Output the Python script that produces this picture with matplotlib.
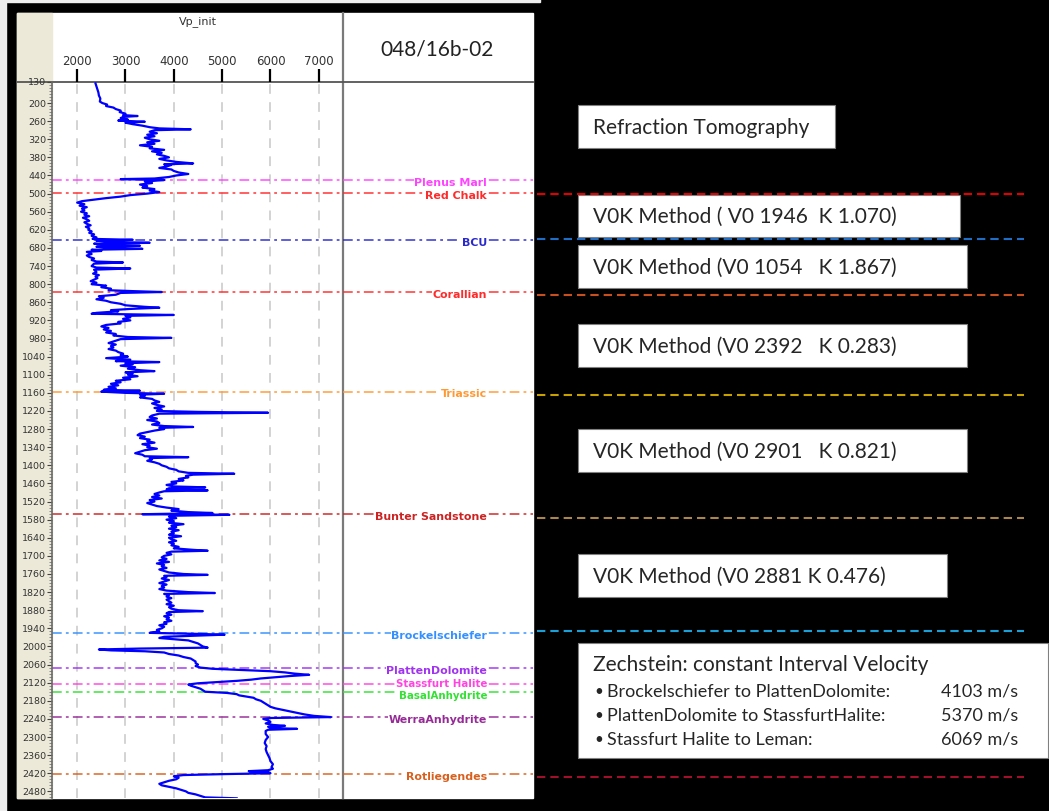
import matplotlib
matplotlib.use("Agg")
import matplotlib.pyplot as plt
import matplotlib.transforms as mtransforms
from matplotlib.patches import Rectangle
from matplotlib.ticker import FixedLocator, MultipleLocator

plt.rcParams['lines.scale_dashes'] = False

W, H = 1049, 812

# ---- data ----
well_name = "048/16b-02"
curve_name = "Vp_init"

# velocity log (depth m, Vp m/s)
log_depth = [135, 145, 155, 165, 175, 185, 195, 200, 205, 210, 215, 220, 225, 230, 235, 240, 243, 246, 250, 255,
             258, 262, 265, 270, 275, 280, 284, 287, 290, 295, 300, 305, 310, 315, 320, 325, 330, 335, 340, 345,
             350, 355, 360, 365, 370, 375, 380, 385, 390, 395, 400, 403, 405, 410, 415, 420, 425, 430, 435, 440,
             445, 450, 452, 455, 460, 465, 470, 475, 480, 485, 490, 495, 500, 505, 510, 515, 520, 525, 530, 535,
             540, 545, 550, 555, 560, 565, 570, 575, 580, 585, 590, 595, 600, 605, 610, 615, 620, 625, 630, 635,
             640, 645, 650, 653, 656, 660, 663, 666, 670, 673, 676, 680, 683, 686, 690, 693, 700, 705, 710, 715,
             720, 725, 728, 732, 740, 745, 748, 752, 760, 765, 770, 775, 780, 785, 790, 795, 800, 805, 810, 815,
             820, 823, 826, 829, 835, 840, 845, 850, 855, 860, 865, 870, 875, 878, 882, 886, 890, 895, 898, 902,
             905, 910, 915, 920, 925, 930, 935, 940, 945, 950, 955, 960, 965, 970, 975, 978, 982, 990, 995, 1000,
             1005, 1010, 1015, 1020, 1025, 1030, 1035, 1040, 1045, 1050, 1055, 1058, 1062, 1065, 1070, 1075, 1080, 1085, 1088, 1092,
             1095, 1100, 1105, 1110, 1115, 1120, 1125, 1130, 1135, 1140, 1145, 1150, 1153, 1156, 1160, 1163, 1166, 1170, 1175, 1180,
             1185, 1190, 1195, 1200, 1205, 1210, 1215, 1220, 1223, 1226, 1229, 1235, 1240, 1245, 1250, 1255, 1260, 1265, 1270, 1273,
             1276, 1280, 1285, 1290, 1295, 1300, 1305, 1310, 1315, 1320, 1325, 1330, 1335, 1340, 1345, 1350, 1355, 1360, 1365, 1370,
             1373, 1376, 1380, 1385, 1390, 1395, 1400, 1405, 1410, 1415, 1420, 1425, 1428, 1431, 1435, 1440, 1445, 1450, 1455, 1460,
             1465, 1470, 1473, 1476, 1480, 1483, 1486, 1490, 1495, 1500, 1505, 1510, 1515, 1520, 1525, 1530, 1535, 1540, 1545, 1550,
             1555, 1558, 1562, 1564, 1567, 1570, 1575, 1580, 1585, 1590, 1595, 1600, 1605, 1610, 1615, 1620, 1625, 1630, 1635, 1640,
             1645, 1650, 1655, 1660, 1665, 1670, 1675, 1680, 1683, 1686, 1690, 1695, 1700, 1705, 1710, 1715, 1720, 1725, 1730, 1735,
             1740, 1745, 1750, 1755, 1760, 1763, 1766, 1770, 1775, 1780, 1785, 1790, 1795, 1800, 1805, 1810, 1815, 1820, 1823, 1826,
             1830, 1835, 1840, 1845, 1850, 1855, 1860, 1865, 1870, 1875, 1880, 1883, 1886, 1890, 1895, 1900, 1905, 1910, 1915, 1920,
             1925, 1930, 1935, 1940, 1945, 1950, 1955, 1958, 1961, 1964, 1968, 1972, 1976, 1980, 1985, 1990, 1995, 2000, 2004, 2007,
             2010, 2013, 2016, 2020, 2025, 2030, 2035, 2040, 2045, 2050, 2055, 2060, 2065, 2070, 2074, 2078, 2082, 2086, 2090, 2094,
             2098, 2102, 2106, 2110, 2114, 2118, 2122, 2126, 2130, 2135, 2140, 2145, 2150, 2154, 2158, 2162, 2166, 2170, 2175, 2180,
             2185, 2190, 2195, 2200, 2205, 2210, 2215, 2220, 2225, 2230, 2234, 2237, 2240, 2245, 2250, 2255, 2260, 2263, 2266, 2270,
             2273, 2276, 2280, 2290, 2300, 2310, 2320, 2330, 2340, 2350, 2360, 2370, 2380, 2390, 2400, 2405, 2410, 2413, 2416, 2420,
             2423, 2426, 2430, 2435, 2440, 2445, 2450, 2455, 2460, 2465, 2470, 2475, 2480, 2485, 2490, 2495, 2500, 2503]
log_vp = [2380, 2400, 2420, 2440, 2450, 2480, 2470, 2520, 2620, 2600, 2750, 2800, 2900, 2880, 3000, 2950, 3250, 2950, 2900, 3050,
          2850, 3400, 3000, 3150, 3350, 3500, 3700, 4350, 3600, 3500, 3650, 3450, 3600, 3400, 3500, 3700, 3450, 3600, 3300, 3550,
          3500, 3800, 3550, 3750, 3650, 3800, 3900, 3700, 3850, 4050, 4400, 3800, 3950, 3850, 3700, 3950, 4000, 4100, 4300, 4050,
          3900, 3600, 2900, 3800, 3400, 3550, 3300, 3450, 3350, 3600, 3500, 3700, 3450, 3100, 2900, 2600, 2350, 2100, 2000, 2150,
          2050, 2200, 2100, 2150, 2080, 2200, 2150, 2250, 2120, 2200, 2250, 2150, 2200, 2280, 2180, 2250, 2230, 2300, 2250, 2350,
          2300, 2400, 2320, 3150, 2400, 2700, 3500, 2350, 2600, 3300, 2400, 2700, 3350, 2300, 2500, 2200, 2300, 2200, 2250, 2350,
          2300, 2400, 2950, 2350, 2300, 2400, 3100, 2350, 2400, 2330, 2450, 2380, 2420, 2350, 2280, 2400, 2300, 2600, 2500, 2700,
          2650, 3150, 3750, 2900, 2800, 2450, 2550, 2400, 2600, 2700, 2900, 3000, 3400, 3700, 3100, 2700, 2850, 2400, 2300, 4000,
          3000, 3100, 2950, 3100, 2850, 2900, 2600, 2500, 2650, 2550, 2700, 2600, 2800, 2750, 3050, 3950, 2900, 2750, 2650, 2800,
          2700, 2750, 2650, 2800, 2850, 2950, 2900, 3050, 2600, 3100, 2800, 3700, 3000, 3150, 2900, 3200, 3050, 3300, 3600, 3000,
          3150, 3050, 3250, 2950, 3100, 2800, 2900, 2700, 2850, 2650, 2800, 2550, 3300, 2500, 3000, 3800, 3300, 3400, 3300, 3550,
          3600, 3700, 3550, 3650, 3800, 3600, 3750, 3650, 4500, 5950, 3700, 3550, 3500, 3650, 3450, 3650, 3700, 3550, 3800, 4400,
          3700, 3800, 3600, 3450, 3300, 3250, 3400, 3300, 3500, 3450, 3600, 3350, 3500, 3450, 3650, 3400, 3300, 3200, 3350, 3400,
          4300, 3500, 3550, 3450, 3600, 3700, 3750, 3850, 3900, 4050, 4100, 4300, 5250, 4400, 4250, 4300, 4100, 4200, 3950, 4050,
          3850, 4000, 4650, 3900, 3850, 4700, 3800, 3700, 3600, 3700, 3550, 3750, 3500, 3600, 3450, 3550, 3650, 3850, 4100, 3950,
          4300, 4800, 3350, 5150, 4000, 3900, 4050, 3850, 4000, 3900, 4200, 3950, 4050, 3900, 4100, 3950, 4000, 3900, 4150, 3900,
          3950, 4050, 3900, 4000, 3950, 4100, 4000, 4400, 4700, 3950, 3850, 3950, 3800, 3750, 3850, 3700, 3900, 3650, 3800, 3750,
          3850, 3700, 3800, 3900, 4200, 4700, 3800, 3850, 3750, 3900, 3800, 3700, 3850, 3750, 3800, 3700, 3850, 4300, 4850, 3800,
          3900, 3850, 3950, 3850, 3900, 3950, 3850, 4000, 3900, 3950, 4100, 4600, 3900, 3850, 3950, 3800, 3900, 3850, 3950, 3800,
          3850, 3700, 3800, 3750, 3650, 3700, 3500, 4400, 5050, 4500, 3800, 3700, 4000, 4300, 4400, 4500, 4550, 4600, 4700, 3300,
          2450, 2700, 3400, 3800, 3900, 4100, 4200, 4350, 4400, 4450, 4450, 4500, 4450, 4550, 4800, 5400, 6000, 6300, 6500, 6800,
          6400, 6100, 5800, 5600, 5300, 4900, 4500, 4300, 4350, 4450, 4550, 4600, 4650, 5100, 5300, 5350, 5500, 5650, 5700, 5800,
          5850, 5900, 5950, 6000, 6100, 6250, 6400, 6550, 6700, 6900, 7250, 6000, 5850, 5950, 6000, 5900, 6050, 6300, 5950, 6000,
          6550, 5950, 5900, 5900, 5950, 5900, 5880, 5920, 5900, 5920, 5950, 5980, 6000, 6050, 6020, 6050, 5950, 5550, 5950, 6000,
          5000, 4200, 4000, 4100, 4050, 3900, 3800, 3700, 3750, 3900, 4050, 4150, 4250, 4300, 4450, 4550, 4650, 5300]

vp_ticks = [2000, 3000, 4000, 5000, 6000, 7000]
depth_ticks = [130, 200, 260, 320, 380, 440, 500, 560, 620, 680, 740, 800, 860, 920, 980, 1040, 1100, 1160,
               1220, 1280, 1340, 1400, 1460, 1520, 1580, 1640, 1700, 1760, 1820, 1880, 1940, 2000, 2060, 2120,
               2180, 2240, 2300, 2360, 2420, 2480]

# formation tops
top_names = ["Plenus Marl", "Red Chalk", "BCU", "Corallian", "Triassic", "Bunter Sandstone", "Brockelschiefer",
             "PlattenDolomite", "Stassfurt Halite", "BasalAnhydrite", "WerraAnhydrite", "Rotliegendes"]
top_depths = [454, 497, 654, 825, 1156, 1562, 1957, 2072, 2126, 2151, 2235, 2422]
top_colors = ["#FF44FF", "#FF2A2A", "#2A2ACC", "#FF2A2A", "#FF9933", "#CC2222", "#3390FF",
              "#A033F0", "#FF44E0", "#33E033", "#962A96", "#D8601E"]

# interval boundaries drawn on the right
zone_depths = [500, 650, 837, 1167, 1576, 1950, 2432]
zone_colors = ["#E00000", "#1E6EC8", "#C8501E", "#C8A000", "#A8864E", "#18A0D8", "#A0102A"]

box_titles = ["Refraction Tomography",
              "V0K Method ( V0 1946  K 1.070)",
              "V0K Method (V0 1054   K 1.867)",
              "V0K Method (V0 2392   K 0.283)",
              "V0K Method (V0 2901   K 0.821)",
              "V0K Method (V0 2881 K 0.476)"]
zech_title = "Zechstein: constant Interval Velocity"
zech_intervals = ["Brockelschiefer to PlattenDolomite:",
                  "PlattenDolomite to StassfurtHalite:",
                  "Stassfurt Halite to Leman:"]
zech_velocity = [4103, 5370, 6069]

# ---- figure ----
fig = plt.figure(figsize=(W / 100, H / 100), dpi=100, facecolor="black")


def px_axes(x0, y0, x1, y1, z=1):
    ax = fig.add_axes([x0 / W, 1 - y1 / H, (x1 - x0) / W, (y1 - y0) / H])
    ax.set_zorder(z)
    ax.set_facecolor("none")
    return ax


bg = px_axes(0, 0, W, H, 0)
bg.set_xlim(0, W)
bg.set_ylim(H, 0)
bg.axis("off")
bg.add_patch(Rectangle((0, 0), 6, H, color="#EEEEEE"))
bg.add_patch(Rectangle((0, 0), 540, 3, color="#EEEEEE"))
bg.add_patch(Rectangle((17, 14), 516, 785, color="white"))
bg.add_patch(Rectangle((17, 14), 35, 785, color="#ECE9D8"))
bg.plot([343, 343], [14, 799], color="#7A7A7A", lw=1.6)
bg.plot([17, 533], [82.6, 82.6], color="#555555", lw=1.3)
bg.text(198, 22, curve_name, ha="center", va="center", fontsize=8, color="#333333")
bg.text(437, 50, well_name, ha="center", va="center", fontsize=15, color="#222222", family="Lato")

Y0, Y1 = 82.6, 799.3
D_TOP, D_BOT = 129, 2503

# depth track
ax_d = px_axes(17, Y0, 52, Y1)
ax_d.set_ylim(D_BOT, D_TOP)
ax_d.set_xlim(0, 1)
ax_d.set_xticks([])
for s in ax_d.spines.values():
    s.set_visible(False)
ax_d.yaxis.tick_right()
ax_d.yaxis.set_major_locator(FixedLocator(depth_ticks))
ax_d.yaxis.set_minor_locator(MultipleLocator(10))
ax_d.tick_params(axis="y", which="major", direction="in", length=3.5, width=0.8, color="#444444",
                 labelright=False)
ax_d.tick_params(axis="y", which="minor", direction="in", length=2, width=0.6, color="#777777")
depth_tr = mtransforms.blended_transform_factory(ax_d.transAxes, ax_d.transData)
for d in depth_ticks:
    ax_d.text(0.83, d, str(d), ha="right", va="center", fontsize=6.8, color="#333333", transform=depth_tr)

# velocity track
ax_v = px_axes(52, Y0, 343, Y1)
ax_v.set_xlim(1480, 7500)
ax_v.set_ylim(D_BOT, D_TOP)
ax_v.set_yticks([])
ax_v.xaxis.tick_top()
ax_v.set_xticks(vp_ticks)
ax_v.set_xticklabels([str(v) for v in vp_ticks])
ax_v.tick_params(axis="x", direction="out", length=9.5, width=1.6, color="black", pad=1,
                 labelsize=8.5, labelcolor="#333333")
for s in ["top", "bottom", "right"]:
    ax_v.spines[s].set_visible(False)
ax_v.spines["left"].set_color("#6A6A6A")
ax_v.spines["left"].set_linewidth(1.2)
for v in vp_ticks:
    ax_v.axvline(v, color="#D0D0D0", lw=1.3, dashes=(7, 6), zorder=0)
ax_v.plot(log_vp, log_depth, color="#0000FF", lw=1.6, zorder=3)

# formation tops track
ax_r = px_axes(343, Y0, 533, Y1)
ax_r.set_ylim(D_BOT, D_TOP)
ax_r.set_xlim(0, 1)
ax_r.axis("off")
lab_tr = mtransforms.blended_transform_factory(ax_r.transAxes, ax_r.transData)
# the two closely spaced Zechstein labels are nudged apart a little
nudge = {"Stassfurt Halite": -5, "BasalAnhydrite": 11}
for name, d, c in zip(top_names, top_depths, top_colors):
    for ax in (ax_v, ax_r):
        ax.axhline(d, color=c, lw=1.4, alpha=0.75, dashes=(7, 3, 2, 3), zorder=2)
    fs = 7.9 if name not in nudge else 7.4
    ax_r.text(0.758, d + nudge.get(name, 6), name, ha="right", va="center", fontsize=fs, fontweight="bold",
              color=c, transform=lab_tr, bbox=dict(facecolor="white", edgecolor="none", pad=0.4), zorder=4)

# interval lines on the right
ax_z = px_axes(537, Y0, 1024, Y1)
ax_z.set_ylim(D_BOT, D_TOP)
ax_z.set_xlim(0, 1)
ax_z.axis("off")
for d, c in zip(zone_depths, zone_colors):
    ax_z.axhline(d, color=c, lw=1.5, dashes=(6, 3.6))

# annotation boxes
fg = px_axes(0, 0, W, H, 3)
fg.set_xlim(0, W)
fg.set_ylim(H, 0)
fg.axis("off")
box_pos = [(106, 149, 835), (196, 238, 960), (246, 289, 967), (325, 368, 967), (430, 473, 967), (555, 598, 947)]
for title, (y0, y1, x1) in zip(box_titles, box_pos):
    fg.add_patch(Rectangle((578, y0), x1 - 578, y1 - y0, facecolor="white", edgecolor="#808080", lw=0.8))
    fg.text(593, (y0 + y1) / 2, title, ha="left", va="center", fontsize=15, color="#262626", family="Lato")

fg.add_patch(Rectangle((578, 644), 470, 115, facecolor="white", edgecolor="#808080", lw=0.8))
fg.text(593, 665, zech_title, ha="left", va="center", fontsize=15, color="#262626", family="Lato")
for i, (txt, v) in enumerate(zip(zech_intervals, zech_velocity)):
    yy = 692 + 24 * i
    fg.text(594, yy, "\u2022", ha="left", va="center", fontsize=11, color="#262626", family="Lato")
    fg.text(607, yy, txt, ha="left", va="center", fontsize=13, color="#262626", family="Lato")
    fg.text(941, yy, f"{v} m/s", ha="left", va="center", fontsize=13, color="#262626", family="Lato")

fig.savefig("out.png", dpi=100, facecolor="black")
